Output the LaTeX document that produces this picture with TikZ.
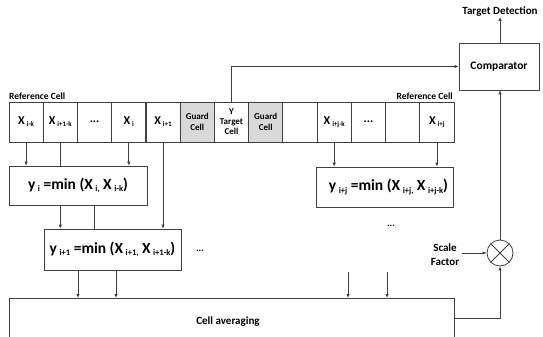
\documentclass[tikz,border=0pt]{standalone}
\usepackage{fontspec}
\setmainfont{Carlito}
\usetikzlibrary{arrows.meta}
\def\sbsize{7}
\newcommand\sbs[1]{\,\raisebox{-0.35ex}{\fontsize{\sbsize}{8}\selectfont #1}}
\definecolor{ln}{HTML}{404040}
\definecolor{gc}{HTML}{D9D9D9}
\begin{document}
\begin{tikzpicture}[x=1pt,y=-1pt,font=\bfseries,
  cellbox/.style={draw=ln,line width=0.8pt,minimum width=34.23pt,minimum height=40pt,inner sep=0pt,align=center,font=\bfseries\fontsize{12}{13}\selectfont},
  guardbox/.style={cellbox,fill=gc,font=\bfseries\fontsize{9}{10.5}\selectfont},
  minbox/.style={draw=ln,line width=0.8pt,inner sep=0pt,font=\def\sbsize{8.5}\bfseries\fontsize{15.5}{16}\selectfont},
  lbl/.style={font=\bfseries\fontsize{9.5}{11}\selectfont,inner sep=0pt,align=center},
  conn/.style={draw=ln,line width=0.8pt},
  arr/.style={conn,-{Latex[length=4pt,width=3.5pt]}}]
\useasboundingbox (0,0) rectangle (543,337);
\clip (0,0) rectangle (543,337);
% cells
\node[cellbox] (c1) at (26.1,122) {X\sbs{i-k}};
\node[cellbox] (c2) at (60.3,122) {X\sbs{i+1-k}};
\node[cellbox] (c3) at (94.6,122) {...};
\node[cellbox] (c4) at (128.8,122) {X\sbs{i}};
\node[cellbox] (c5) at (163.0,122) {X\sbs{i+1}};
\node[guardbox] (c6) at (197.3,122) {Guard\\Cell};
\node[cellbox,font=\bfseries\fontsize{9}{10}\selectfont] (c7) at (231.5,122) {Y\\Target\\Cell};
\node[guardbox] (c8) at (265.7,122) {Guard\\Cell};
\node[cellbox] (c9) at (300.0,122) {};
\node[cellbox] (c10) at (334.2,122) {X\sbs{i+j-k}};
\node[cellbox] (c11) at (368.4,122) {...};
\node[cellbox] (c12) at (402.7,122) {};
\node[cellbox] (c13) at (436.9,122) {X\sbs{i+j}};
% labels
\node[lbl,anchor=south west] (rl) at (9,100) {Reference Cell};
\node[lbl,anchor=south east] (rr) at (453,100) {Reference Cell};
% min boxes
\node[minbox,minimum width=138pt,minimum height=39pt] (yi) at (78,185.5) {y\sbs{i} =min (X\sbs{i,} X\sbs{i-k})};
\node[minbox,minimum width=137pt,minimum height=41pt] (yi1) at (112.5,249.5) {y\sbs{i+1} =min (X\sbs{i+1,} X\sbs{i+1-k})};
\node[minbox,minimum width=137pt,minimum height=40pt] (yij) at (384.5,187) {\hspace{8pt}y\sbs{i+j} =min (X\sbs{i+j,} X\sbs{i+j-k})};
\node[lbl] (d1) at (200,251) {...};
\node[lbl] (d2) at (391,226) {...};
% cell averaging
\node[draw=ln,line width=0.8pt,minimum width=445pt,minimum height=60pt,anchor=north west,inner sep=0pt] (ca) at (9,298) {};
\node[lbl,font=\bfseries\fontsize{11}{12}\selectfont] (cat) at (228,322) {Cell averaging};
% comparator etc
\node[minbox,minimum width=80pt,minimum height=47pt,font=\bfseries\fontsize{11.5}{12}\selectfont] (cmp) at (499,66.5) {Comparator};
\node[lbl,font=\bfseries\fontsize{11}{12}\selectfont] (td) at (500,12) {Target Detection};
\node[draw=ln,line width=0.8pt,circle,minimum size=26pt,inner sep=0pt] (mul) at (500,253) {};
\draw[conn] (mul.north west) -- (mul.south east) (mul.north east) -- (mul.south west);
\node[lbl,font=\bfseries\fontsize{11}{14}\selectfont] (sf) at (445,255) {Scale\\Factor};
% connectors
\draw[arr] (c1.south) -- (c1.south |- yi.north);
\draw[conn] (c2.south) -- (c2.south |- yi.north);
\draw[arr] (c4.south) -- (c4.south |- yi.north);
\draw[arr] (c5.south) -- (c5.south |- yi1.north);
\draw[arr] (yi.south -| c2.south) -- (c2.south |- yi1.north);
\draw[conn] (yi.south -| c3.south) -- (c3.south |- yi1.north);
\draw[arr] (yi1.south -| 78,0) -- (78,298);
\draw[arr] (yi1.south -| 116,0) -- (116,298);
\coordinate (f1) at (348,272);
\coordinate (f2) at (387,272);
\draw[arr] (f1) -- (f1 |- ca.north);
\draw[arr] (f2) -- (f2 |- ca.north);
\draw[arr] (c10.south) -- (c10.south |- yij.north);
\draw[arr] (c13.south) -- (c13.south |- yij.north);
\draw[arr] (c7.north) |- (cmp.west);
\draw[arr] (ca.east |- 0,318) -| (mul.south);
\draw[arr] (sf.east |- mul.west) ++(3,0) -- (mul.west);
\draw[arr] (mul.north) -- (mul.north |- cmp.south);
\draw[arr] (cmp.north -| mul.north) -- (td.south -| mul.north);
\end{tikzpicture}
\end{document}
